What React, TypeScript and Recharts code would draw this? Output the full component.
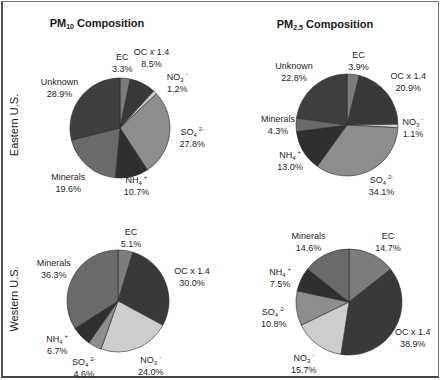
import { PieChart, Pie, Cell } from 'recharts';

// composition categories, clockwise from 12 o'clock
const eastPm10Names = ['EC', 'OC x 1.4', 'NO3-', 'SO4 2-', 'NH4+', 'Minerals', 'Unknown'];
const eastPm10Values = [3.3, 8.5, 1.2, 27.8, 10.7, 19.6, 28.9];

const eastPm25Names = ['EC', 'OC x 1.4', 'NO3-', 'SO4 2-', 'NH4+', 'Minerals', 'Unknown'];
const eastPm25Values = [3.9, 20.9, 1.1, 34.1, 13.0, 4.3, 22.8];

const westPm10Names = ['EC', 'OC x 1.4', 'NO3-', 'SO4 2-', 'NH4+', 'Minerals'];
const westPm10Values = [5.1, 30.0, 24.0, 4.6, 6.7, 36.3];

const westPm25Names = ['EC', 'OC x 1.4', 'NO3-', 'SO4 2-', 'NH4+', 'Minerals'];
const westPm25Values = [14.7, 38.9, 15.7, 10.8, 7.5, 14.6];

const colors: Record<string, string> = {
  'EC': '#7c7c7c',
  'OC x 1.4': '#393939',
  'NO3-': '#cdcdcd',
  'SO4 2-': '#8d8d8d',
  'NH4+': '#2f2f2f',
  'Minerals': '#6a6a6a',
  'Unknown': '#3f3f3f',
};

// chemical names drawn with subscript / superscript
const formula: Record<string, [string, string, string]> = {
  'NO3-': ['NO', '3', '-'],
  'SO4 2-': ['SO', '4', '2-'],
  'NH4+': ['NH', '4', '+'],
};

const FONT = '"Liberation Sans", Arial, sans-serif';

// per-pie layout: centre, radius, label distance and small angle nudges
const panels = [
  { names: eastPm10Names, values: eastPm10Values, cx: 115, cy: 123, r: 50,
    labelR: [66, 77, 73, 73, 60, 75, 73], labelDa: [-4, -3, 7, 1, -2, 3, -4] },
  { names: eastPm25Names, values: eastPm25Values, cx: 342, cy: 120, r: 51,
    labelR: [66, 75, 66, 70, 67, 69, 75], labelDa: [3, 3, 1, -4, -1, 0, -4] },
  { names: westPm10Names, values: westPm10Values, cx: 113, cy: 296, r: 51,
    labelR: [65, 78, 72, 75, 75, 72], labelDa: [3, 4, -6, 0, 8, -2] },
  { names: westPm25Names, values: westPm25Values, cx: 344, cy: 297, r: 53,
    labelR: [72, 73, 76, 77, 73, 73], labelDa: [7, -1, 0, -5, -6, -8] },
];

function renderName(name: string) {
  const f = formula[name];
  if (!f) return name;
  return (
    <>
      <tspan>{f[0]}</tspan>
      <tspan fontSize={6} dy={2}>{f[1]}</tspan>
      <tspan fontSize={6} dy={-6} dx={2}>{f[2]}</tspan>
    </>
  );
}

function makeLabel(labelR: number[], labelDa: number[]) {
  return (props: any) => {
    const { cx, cy, midAngle, index, name, value } = props;
    const theta = ((90 - midAngle + labelDa[index]) * Math.PI) / 180;
    const d = labelR[index];
    const x = cx + d * Math.sin(theta);
    const y = cy - d * Math.cos(theta);
    return (
      <g key={`lbl-${index}`}>
        <text x={x} y={y - 2.5} textAnchor="middle" fontSize={9} fontFamily={FONT} fill="#1e1e1e">
          {renderName(name)}
        </text>
        <text x={x} y={y + 9.5} textAnchor="middle" fontSize={9} fontFamily={FONT} fill="#1e1e1e">
          {`${Number(value).toFixed(1)}%`}
        </text>
      </g>
    );
  };
}

export default function App() {
  return (
    <div style={{ position: 'absolute', left: 0, top: 0, width: 440, height: 380, background: '#fff' }}>
      <div
        style={{
          position: 'absolute', left: 1, top: 1, width: 435, height: 374,
          border: '1px solid #777', borderLeft: '2px solid #555', borderBottom: '2px solid #444',
        }}
      />
      <PieChart width={440} height={380} style={{ position: 'absolute', left: 0, top: 0 }}>
        {panels.map((p, i) => (
          <Pie
            key={i}
            data={p.names.map((name, j) => ({ name, value: p.values[j] }))}
            dataKey="value"
            nameKey="name"
            cx={p.cx}
            cy={p.cy}
            outerRadius={p.r}
            startAngle={90}
            endAngle={-270}
            stroke="#2a2a2a"
            strokeWidth={0.6}
            labelLine={false}
            label={makeLabel(p.labelR, p.labelDa)}
            isAnimationActive={false}
          >
            {p.names.map((name) => (
              <Cell key={name} fill={colors[name]} />
            ))}
          </Pie>
        ))}
      </PieChart>
      <svg width={440} height={380} style={{ position: 'absolute', left: 0, top: 0, pointerEvents: 'none' }}>
        <text x={97} y={27} textAnchor="middle" fontSize={11} fontWeight="bold" fontFamily={FONT} fill="#1a1a1a">
          PM<tspan fontSize={7} dy={2}>10</tspan><tspan dy={-2}> Composition</tspan>
        </text>
        <text x={325} y={28} textAnchor="middle" fontSize={11} fontWeight="bold" fontFamily={FONT} fill="#1a1a1a">
          PM<tspan fontSize={7} dy={2}>2.5</tspan><tspan dy={-2}> Composition</tspan>
        </text>
        <text transform="translate(18,125) rotate(-90)" textAnchor="middle" fontSize={11} fontFamily={FONT} fill="#1a1a1a">
          Eastern U.S.
        </text>
        <text transform="translate(18,299) rotate(-90)" textAnchor="middle" fontSize={11} fontFamily={FONT} fill="#1a1a1a">
          Western U.S.
        </text>
      </svg>
    </div>
  );
}
